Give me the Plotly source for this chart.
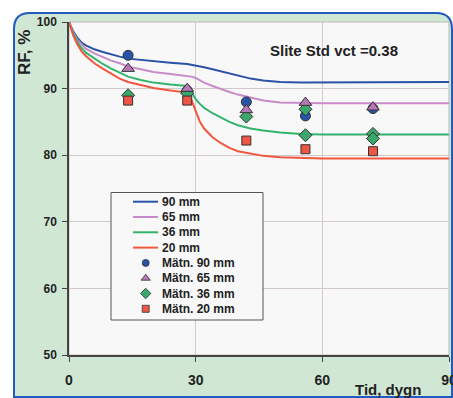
import plotly.graph_objects as go

# ---- data ----
days = [0, 1, 2, 3, 4, 6, 8, 10, 12, 14, 17, 20, 24, 28, 29, 30, 31, 32, 34, 36, 38, 40, 43, 46, 50, 55, 60, 70, 80, 90]
rf_90 = [100, 98.6, 97.6, 96.9, 96.5, 95.9, 95.5, 95.1, 94.8, 94.5, 94.3, 94.1, 93.9, 93.7, 93.6, 93.5, 93.3, 93.2, 92.9, 92.6, 92.3, 91.9, 91.5, 91.2, 91.0, 90.9, 90.9, 90.9, 91.0, 91.0]
rf_65 = [100, 98.4, 97.3, 96.6, 96.0, 95.3, 94.7, 94.2, 93.8, 93.3, 92.9, 92.5, 92.2, 91.9, 91.8, 91.6, 91.2, 90.9, 90.4, 89.9, 89.5, 89.1, 88.6, 88.2, 87.9, 87.8, 87.8, 87.8, 87.8, 87.8]
rf_36 = [100, 98.2, 97.0, 96.1, 95.4, 94.5, 93.7, 93.0, 92.4, 91.8, 91.3, 90.9, 90.6, 90.4, 89.5, 88.4, 87.7, 87.1, 86.3, 85.6, 85.0, 84.5, 84.0, 83.7, 83.4, 83.2, 83.1, 83.1, 83.1, 83.1]
rf_20 = [100, 98.0, 96.6, 95.6, 94.9, 93.8, 93.0, 92.2, 91.5, 91.0, 90.5, 90.1, 89.7, 89.4, 88.3, 86.5, 85.0, 84.0, 82.7, 81.8, 81.1, 80.6, 80.2, 79.9, 79.7, 79.6, 79.5, 79.5, 79.5, 79.5]

m90_x = [14, 28, 42, 56, 72]
m90_y = [95.0, 89.7, 88.0, 85.9, 87.0]
m65_x = [14, 28, 42, 56, 72]
m65_y = [93.0, 90.0, 86.8, 87.9, 87.2]
m36_x = [14, 28, 42, 56, 56, 72, 72]
m36_y = [89.0, 89.3, 85.8, 86.9, 83.0, 83.2, 82.5]
m20_x = [14, 28, 42, 56, 72]
m20_y = [88.2, 88.2, 82.2, 80.9, 80.6]

line_names = ["90 mm", "65 mm", "36 mm", "20 mm"]
meas_names = ["Mätn. 90 mm", "Mätn. 65 mm", "Mätn. 36 mm", "Mätn. 20 mm"]
x_ticks = [0, 30, 60, 90]
y_ticks = [50, 60, 70, 80, 90, 100]

# ---- styling ----
W, H = 453, 398
L, R, T, B = 69, 449, 22, 355
FONT = "Liberation Sans, Arial, sans-serif"
line_cols = ["#2a52a6", "#c98ac9", "#33b46c", "#f1563f"]
mark_cols = ["#2753a8", "#b878b8", "#3aa86a", "#ee5544"]
symbols = ["circle", "triangle-up", "diamond", "square"]
msizes = [10, 11, 10, 9]
leg_msizes = [7, 8, 8, 7]

def px2x(px):
    return (px - L) / (R - L)

def py2y(py):
    return (B - py) / (B - T)

fig = go.Figure()

series = [rf_90, rf_65, rf_36, rf_20]
for name, ys, c in zip(line_names, series, line_cols):
    fig.add_trace(go.Scatter(x=days, y=ys, mode="lines", name=name, showlegend=False,
                             line=dict(color=c, width=2)))

meas = [(m90_x, m90_y), (m65_x, m65_y), (m36_x, m36_y), (m20_x, m20_y)]
for i in [0, 2, 1, 3]:
    mx, my = meas[i]
    fig.add_trace(go.Scatter(x=mx, y=my, mode="markers", name=meas_names[i], showlegend=False,
                             marker=dict(color=mark_cols[i], symbol=symbols[i], size=msizes[i],
                                         line=dict(color="#333", width=1))))

# ---- custom legend on a pixel-coordinate overlay axis ----
lg_l, lg_r, lg_t, lg_b = 111, 263, 192.5, 320
row0, row_dy = 201.7, 15.3
fig.add_trace(go.Scatter(x=[lg_l, lg_r, lg_r, lg_l, lg_l], y=[lg_t, lg_t, lg_b, lg_b, lg_t],
                         xaxis="x2", yaxis="y2", mode="lines", fill="toself",
                         fillcolor="#f8f8f8", line=dict(color="#555", width=1),
                         hoverinfo="skip", showlegend=False))
annotations = []
for k, (name, c) in enumerate(zip(line_names, line_cols)):
    yy = row0 + k * row_dy
    fig.add_trace(go.Scatter(x=[133, 158], y=[yy, yy], xaxis="x2", yaxis="y2", mode="lines",
                             line=dict(color=c, width=2), hoverinfo="skip", showlegend=False))
    annotations.append(dict(text=name, x=160, y=yy, xref="x2", yref="y2", xanchor="left",
                            yanchor="middle", showarrow=False,
                            font=dict(family=FONT, size=12, color="#222", weight="bold")))
for k, (name, c) in enumerate(zip(meas_names, mark_cols)):
    yy = row0 + (k + 4) * row_dy
    fig.add_trace(go.Scatter(x=[145.7], y=[yy], xaxis="x2", yaxis="y2", mode="markers",
                             marker=dict(color=c, symbol=symbols[k], size=leg_msizes[k],
                                         line=dict(color="#333", width=0.8)),
                             hoverinfo="skip", showlegend=False))
    annotations.append(dict(text=name, x=160, y=yy, xref="x2", yref="y2", xanchor="left",
                            yanchor="middle", showarrow=False,
                            font=dict(family=FONT, size=12, color="#222", weight="bold")))

# background panel with rounded corners
pl, pt, pr, pb, rad = 14, 13, 452, 397, 16
def P(px, py):
    return f"{px2x(px):.5f},{py2y(py):.5f}"
panel_path = (f"M {P(pl, pb)} L {P(pl, pt + rad)} Q {P(pl, pt)} {P(pl + rad, pt)} "
              f"L {P(pr - rad, pt)} Q {P(pr, pt)} {P(pr, pt + rad)} L {P(pr, pb)} Z")

shapes = [
    dict(type="path", path=panel_path, xref="paper", yref="paper", layer="below",
         fillcolor="#d0e7d4", line=dict(color="#1e5cbf", width=2)),
    dict(type="rect", xref="paper", yref="paper", x0=0, x1=1, y0=0, y1=1, layer="below",
         fillcolor="#f8f8f8", line=dict(color="#bdb6b6", width=1)),
]

annotations += [
    dict(text="Slite Std vct =0.38", x=px2x(334), y=py2y(50), xref="paper", yref="paper",
         xanchor="center", yanchor="middle",
         showarrow=False, font=dict(family=FONT, size=15, color="#222", weight="bold")),
    dict(text="RF, %", x=px2x(24), y=py2y(53), xref="paper", yref="paper", textangle=-90,
         xanchor="center", yanchor="middle",
         showarrow=False, font=dict(family=FONT, size=17, color="#222", weight="bold")),
    dict(text="Tid, dygn", x=px2x(388), y=py2y(389), xref="paper", yref="paper",
         xanchor="center", yanchor="middle",
         showarrow=False, font=dict(family=FONT, size=15, color="#222", weight="bold")),
]

fig.update_layout(
    template="none",
    width=W, height=H,
    margin=dict(l=L, r=W - R, t=T, b=H - B, pad=0),
    paper_bgcolor="white",
    plot_bgcolor="rgba(0,0,0,0)",
    shapes=shapes,
    font=dict(family=FONT, color="#222"),
    showlegend=False,
    xaxis=dict(range=[0, 90], tickvals=x_ticks, ticktext=[str(v) for v in x_ticks],
               showgrid=True, gridcolor="#d3c9c9", gridwidth=1, zeroline=False,
               showline=True, linecolor="#444", linewidth=1.5,
               ticks="outside", ticklen=5, tickcolor="#444", ticklabelstandoff=6,
               ticklabeloverflow="allow",
               tickfont=dict(family=FONT, size=14, color="#222", weight="bold"),
               fixedrange=True),
    yaxis=dict(range=[50, 100], tickvals=y_ticks, ticktext=[str(v) for v in y_ticks],
               showgrid=True, gridcolor="#d3c9c9", gridwidth=1, zeroline=False,
               showline=True, linecolor="#444", linewidth=1.5,
               ticks="outside", ticklen=5, tickcolor="#444", ticklabelstandoff=3,
               ticklabeloverflow="allow",
               tickfont=dict(family=FONT, size=12, color="#222", weight="bold"),
               fixedrange=True),
    xaxis2=dict(range=[L, R], overlaying="x", visible=False, fixedrange=True),
    yaxis2=dict(range=[B, T], overlaying="y", visible=False, fixedrange=True),
    annotations=annotations,
)

fig.write_html("out.html")
